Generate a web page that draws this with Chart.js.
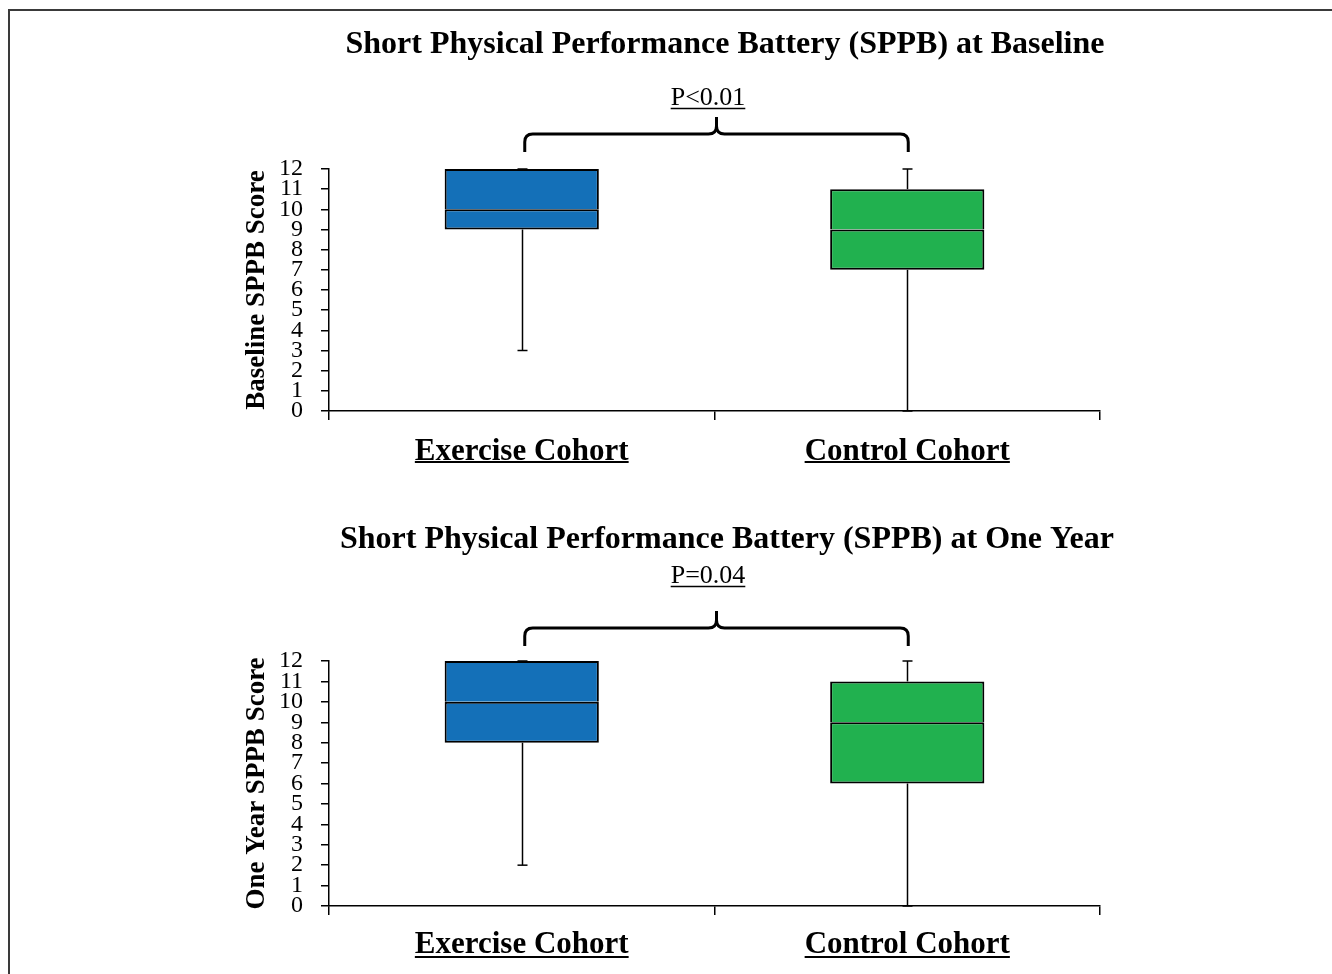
<!DOCTYPE html>
<html>
<head>
<meta charset="utf-8">
<script src="https://cdn.jsdelivr.net/npm/chart.js@4.4.1/dist/chart.umd.min.js"></script>
<style>
  html, body { margin: 0; padding: 0; background: #fff; }
  body { width: 1332px; height: 974px; position: relative; overflow: hidden; }
  .frame { position: absolute; left: 8px; top: 9px; right: -10px; bottom: -10px;
           border-top: 2px solid #3a3a3a; border-left: 2px solid #3a3a3a; }
  .box { position: absolute; left: 0; width: 1332px; height: 487px; }
</style>
</head>
<body>
<div class="frame"></div>
<div class="box" style="top:0"><canvas id="chart1"></canvas></div>
<div class="box" style="top:487px"><canvas id="chart2"></canvas></div>
<script>
// Категории и значения (min, Q1, медиана, Q3, max)
const categories = ['Exercise Cohort', 'Control Cohort'];

const baselineMin = [3, 0];
const baselineQ1 = [9, 7];
const baselineMedian = [10, 9];
const baselineQ3 = [12, 11];
const baselineMax = [12, 12];

const oneYearMin = [2, 0];
const oneYearQ1 = [8, 6];
const oneYearMedian = [10, 9];
const oneYearQ3 = [12, 11];
const oneYearMax = [12, 12];

const yMin = 0;
const yMax = 12;
const yStep = 1;

const titles = ['Short Physical Performance Battery (SPPB) at Baseline',
                'Short Physical Performance Battery (SPPB) at One Year'];
const yTitles = ['Baseline SPPB Score', 'One Year SPPB Score'];
const pValues = ['P<0.01', 'P=0.04'];

const boxColors = ['#1470b8', '#21b14f'];
const SERIF = '"Liberation Serif", "Times New Roman", serif';

// Усы, скобка, заголовок, подчёркивания
const boxExtras = {
  id: 'boxExtras',
  beforeDatasetsDraw(chart, args, opts) {
    const ctx = chart.ctx;
    const x = chart.scales.x, y = chart.scales.y;
    ctx.save();
    ctx.strokeStyle = '#000';
    ctx.lineWidth = 1.5;
    opts.min.forEach((v, i) => {
      const cx = Math.round(x.getPixelForValue(i)) + 0.5;
      const segs = [[opts.min[i], opts.q1[i]], [opts.q3[i], opts.max[i]]];
      segs.forEach(([a, b]) => {
        ctx.beginPath();
        ctx.moveTo(cx, y.getPixelForValue(a));
        ctx.lineTo(cx, y.getPixelForValue(b));
        ctx.stroke();
      });
      [opts.min[i], opts.max[i]].forEach(v2 => {
        const py = y.getPixelForValue(v2);
        ctx.beginPath();
        ctx.moveTo(cx - 5, py);
        ctx.lineTo(cx + 5, py);
        ctx.stroke();
      });
    });
    ctx.restore();
  },
  afterDraw(chart, args, opts) {
    const ctx = chart.ctx;
    const x = chart.scales.x;
    ctx.save();
    ctx.fillStyle = '#000';
    ctx.strokeStyle = '#000';

    // заголовок
    ctx.font = 'bold 32px ' + SERIF;
    ctx.textAlign = 'center';
    ctx.textBaseline = 'middle';
    ctx.fillText(opts.title, opts.titleX, opts.titleY);

    // значение P с подчёркиванием
    ctx.font = '26px ' + SERIF;
    ctx.fillText(opts.pText, opts.pX, opts.pY);
    const pw = ctx.measureText(opts.pText).width;
    ctx.lineWidth = 1.3;
    ctx.beginPath();
    ctx.moveTo(opts.pX - pw / 2, opts.pY + 10);
    ctx.lineTo(opts.pX + pw / 2, opts.pY + 10);
    ctx.stroke();

    // фигурная скобка
    const xa = x.getPixelForValue(0) + 3;
    const xb = x.getPixelForValue(1) + 1;
    const xm = (xa + xb) / 2;
    const by = opts.braceY;
    const r = 8;
    ctx.lineWidth = 3;
    ctx.beginPath();
    ctx.moveTo(xa, by + 18);
    ctx.lineTo(xa, by + r);
    ctx.quadraticCurveTo(xa, by, xa + r, by);
    ctx.lineTo(xm - r, by);
    ctx.quadraticCurveTo(xm, by, xm, by - r);
    ctx.lineTo(xm, by - 17);
    ctx.moveTo(xm, by - r);
    ctx.quadraticCurveTo(xm, by, xm + r, by);
    ctx.lineTo(xb - r, by);
    ctx.quadraticCurveTo(xb, by, xb, by + r);
    ctx.lineTo(xb, by + 18);
    ctx.stroke();

    // подчёркивание подписей категорий
    ctx.font = 'bold 31px ' + SERIF;
    ctx.lineWidth = 1.8;
    const uy = x.bottom - opts.underlineUp;
    categories.forEach((c, i) => {
      const cx = x.getPixelForValue(i);
      const w = ctx.measureText(c).width;
      ctx.beginPath();
      ctx.moveTo(cx - w / 2, uy);
      ctx.lineTo(cx + w / 2, uy);
      ctx.stroke();
    });
    ctx.restore();
  }
};

function makeChart(id, idx, stats, layout) {
  const [mins, q1, med, q3, maxs] = stats;
  const lower = q1.map((v, i) => [v, med[i]]);
  const upper = med.map((v, i) => [v, q3[i]]);
  const common = {
    backgroundColor: boxColors,
    borderColor: '#000',
    borderSkipped: false,
    grouped: false,
    barPercentage: 0.4,
    categoryPercentage: 1.0
  };
  return new Chart(document.getElementById(id), {
    type: 'bar',
    data: {
      labels: categories,
      datasets: [
        Object.assign({ label: 'lower', data: lower,
          borderWidth: { top: 2, bottom: 2, left: 2, right: 2 } }, common),
        Object.assign({ label: 'upper', data: upper,
          borderWidth: { top: 2, bottom: 0, left: 2, right: 2 } }, common)
      ]
    },
    plugins: [boxExtras],
    options: {
      responsive: true,
      maintainAspectRatio: false,
      animation: false,
      layout: { padding: { left: 239, right: 232, top: layout.top, bottom: 0 } },
      scales: {
        x: {
          afterFit: s => { s.height = layout.xHeight; },
          grid: { display: true, offset: true, drawOnChartArea: false, tickLength: 9, color: '#000', lineWidth: 1.5 },
          border: { display: true, color: '#000', width: 1.5 },
          ticks: { color: '#000', padding: layout.xPad, font: { family: SERIF, size: 31, weight: 'bold' } }
        },
        y: {
          min: yMin, max: yMax,
          afterFit: s => { s.width = 90; },
          grid: { display: true, drawOnChartArea: false, tickLength: 8, color: '#000', lineWidth: 1.5 },
          border: { display: true, color: '#000', width: 1.5 },
          ticks: { stepSize: yStep, autoSkip: false, color: '#000', padding: 18,
                   font: { family: SERIF, size: 24 } },
          title: { display: true, text: yTitles[idx], color: '#000', padding: { top: 2, bottom: 4 },
                   font: { family: SERIF, size: 27, weight: 'bold' } }
        }
      },
      plugins: {
        legend: { display: false },
        tooltip: { enabled: false },
        boxExtras: Object.assign({
          title: titles[idx], pText: pValues[idx],
          min: mins, q1: q1, q3: q3, max: maxs
        }, layout.annot)
      }
    }
  });
}

makeChart('chart1', 0,
  [baselineMin, baselineQ1, baselineMedian, baselineQ3, baselineMax],
  { top: 169, xHeight: 76, xPad: 13,
    annot: { titleX: 725, titleY: 45, pX: 708, pY: 98.5, braceY: 134, underlineUp: 25 } });

makeChart('chart2', 1,
  [oneYearMin, oneYearQ1, oneYearMedian, oneYearQ3, oneYearMax],
  { top: 174, xHeight: 68, xPad: 11,
    annot: { titleX: 727, titleY: 53, pX: 708, pY: 89.5, braceY: 141, underlineUp: 17 } });
</script>
</body>
</html>
